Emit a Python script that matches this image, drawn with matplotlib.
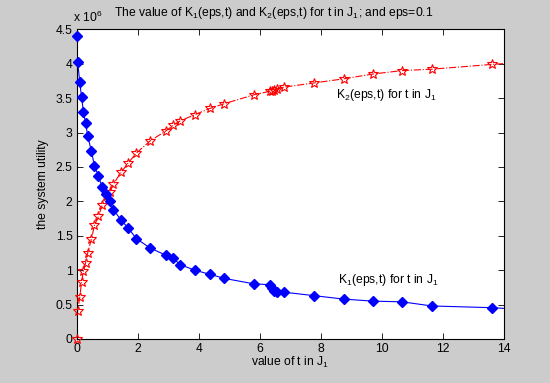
import matplotlib
matplotlib.use("Agg")
import matplotlib.pyplot as plt
import numpy as np

# values (utility in units of 1e6)
t_vals = [0.0, 0.03, 0.10, 0.16, 0.22, 0.29, 0.36, 0.48, 0.58, 0.71,
          0.83, 0.96, 1.08, 1.20, 1.45, 1.69, 1.95, 2.41, 2.91, 3.17,
          3.39, 3.87, 4.36, 4.84, 5.82, 6.33, 6.40, 6.47, 6.55, 6.79,
          7.77, 8.74, 9.70, 10.66, 11.63, 13.60, 14.60]
k1_vals = [4.40, 4.03, 3.73, 3.51, 3.30, 3.14, 2.95, 2.73, 2.52, 2.37,
           2.21, 2.10, 2.00, 1.88, 1.73, 1.61, 1.46, 1.32, 1.22, 1.17,
           1.08, 1.00, 0.94, 0.88, 0.80, 0.79, 0.74, 0.70, 0.69, 0.68,
           0.63, 0.58, 0.55, 0.54, 0.48, 0.455, 0.43]
k2_vals = [0.0, 0.41, 0.61, 0.83, 0.99, 1.10, 1.25, 1.45, 1.65, 1.78,
           1.94, 2.08, 2.14, 2.25, 2.42, 2.56, 2.70, 2.88, 3.02, 3.11,
           3.17, 3.26, 3.35, 3.42, 3.55, 3.60, 3.61, 3.62, 3.63, 3.66,
           3.72, 3.78, 3.85, 3.90, 3.92, 3.99, 4.02]

x_ticks = np.arange(0, 15, 2)
y_ticks = np.arange(0, 4.6, 0.5)

plt.rcParams["font.family"] = ["Liberation Sans", "DejaVu Sans"]
plt.rcParams["mathtext.fontset"] = "custom"
plt.rcParams["mathtext.rm"] = "Liberation Sans"
plt.rcParams["mathtext.it"] = "Liberation Sans"

FS = 8.7
gray = "#cccccc"
fig = plt.figure(figsize=(5.5, 3.83), dpi=100, facecolor=gray)
ax = fig.add_axes([0.1395, 0.1149, 0.777, 0.8086])
ax.set_facecolor("white")

# lines (clipped at the axes), markers drawn like MATLAB (not clipped)
ax.plot(t_vals, k2_vals, color="red", linestyle="-.", linewidth=0.8)
ax.plot(t_vals[:-1], k2_vals[:-1], linestyle="none", clip_on=False,
        marker="*", markersize=7, markerfacecolor="none",
        markeredgecolor="red", markeredgewidth=0.8, zorder=3)
ax.plot(t_vals, k1_vals, color="blue", linestyle="-", linewidth=0.8)
ax.plot(t_vals[:-1], k1_vals[:-1], linestyle="none", clip_on=False,
        marker="D", markersize=5, markerfacecolor="blue",
        markeredgecolor="blue", zorder=3)

ax.set_xlim(0, 14)
ax.set_ylim(0, 4.5)
ax.set_xticks(x_ticks)
ax.set_yticks(y_ticks)
ax.set_yticklabels([f"{v:g}" for v in y_ticks])
ax.tick_params(direction="in", top=True, right=True, labelsize=FS,
               length=4, width=0.6, pad=3)
for s in ax.spines.values():
    s.set_linewidth(0.8)

ax.set_xlabel("value of t in J$_1$", fontsize=FS, labelpad=0)
ax.set_ylabel("the system utility", fontsize=FS, labelpad=5)
fig.text(0.498, 0.965, "The value of K$_1$(eps,t) and K$_2$(eps,t) for t in J$_1$; and eps=0.1",
         ha="center", va="center", fontsize=FS)
fig.text(0.133, 0.955, "x 10$^6$", ha="left", va="center", fontsize=FS)

ax.text(8.5, 3.55, "K$_2$(eps,t) for t in J$_1$", fontsize=FS, ha="left", va="center")
ax.text(8.56, 0.86, "K$_1$(eps,t) for t in J$_1$", fontsize=FS, ha="left", va="center")

fig.savefig("out.png", dpi=100, facecolor=gray)
